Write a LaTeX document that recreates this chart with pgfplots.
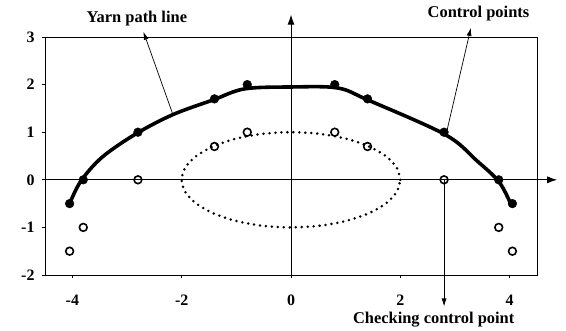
\documentclass[border=0pt]{standalone}
\usepackage{pgfplots}
\pgfplotsset{compat=1.18}
\usepackage{fontspec}
\setmainfont{Liberation Serif}
\usetikzlibrary{arrows.meta}

\begin{document}
\begin{tikzpicture}
\begin{axis}[
  scale only axis,
  width=492bp, height=238bp,
  xmin=-4.5, xmax=4.5, ymin=-2, ymax=3,
  xtick={-4,-2,0,2,4}, ytick={-2,-1,0,1,2,3},
  xtick pos=left, ytick pos=left,
  axis line style={line width=0.7pt},
  tick style={black, line width=0.7pt},
  tick align=outside, major tick length=3bp,
  ticklabel style={font=\bfseries\fontsize{16}{16}\selectfont},
  xticklabel style={yshift=-13bp},
  yticklabel style={xshift=-4bp},
  /pgf/number format/assume math mode=true,
  clip=false,
]
% centre axes with arrow heads
\draw[line width=1pt, -{Latex[length=10bp,width=7bp]}] (axis cs:-4.55,0) -- (axis cs:4.87,0);
\draw[line width=1pt, -{Latex[length=10bp,width=7bp]}] (axis cs:0,-2) -- (axis cs:0,3.47);

% dotted ellipse
\addplot[black, line width=2.8pt, line cap=round, dash pattern=on 0pt off 6pt, smooth] coordinates {
 (2,0) (1.932,0.259) (1.732,0.5) (1.414,0.707) (1,0.866) (0.518,0.966) (0,1)
 (-0.518,0.966) (-1,0.866) (-1.414,0.707) (-1.732,0.5) (-1.932,0.259) (-2,0)
 (-1.932,-0.259) (-1.732,-0.5) (-1.414,-0.707) (-1,-0.866) (-0.518,-0.966) (0,-1)
 (0.518,-0.966) (1,-0.866) (1.414,-0.707) (1.732,-0.5) (1.932,-0.259) (2,0)
};

% yarn path line
\addplot[black, line width=3.6pt, smooth, tension=0.55] coordinates {
 (-4.05,-0.5) (-3.84,-0.02) (-3.45,0.48) (-2.83,0.97) (-2.16,1.37)
 (-1.42,1.68) (-0.85,1.91) (0,1.95) (0.85,1.93) (1.4,1.68) (2.82,0.95)
 (3.4,0.4) (3.81,-0.05) (4.04,-0.56)
};

% control points
\addplot[only marks, mark=*, mark size=4.4pt, black] coordinates {
 (-4.05,-0.5) (-3.8,0) (-2.8,1.0) (-1.4,1.7) (-0.8,2.0)
 (0.8,2.0) (1.4,1.7) (2.8,1.0) (3.8,0) (4.05,-0.5)
};

% checking control points
\addplot[only marks, mark=o, mark size=3.9pt, line width=1.6pt, black, mark options={fill=white}] coordinates {
 (-4.05,-1.5) (-3.8,-1.0) (-2.8,0) (-1.4,0.7) (-0.8,1.0)
 (0.8,1.0) (1.4,0.7) (2.8,0) (3.8,-1.0) (4.05,-1.5)
};

% annotations
\draw[line width=0.7pt, -{Latex[length=8bp,width=5bp]}] (axis cs:-2.16,1.37) -- (axis cs:-2.70,3.11);
\node[font=\bfseries\fontsize{16.5}{16.5}\selectfont] at (axis cs:-2.82,3.38) {Yarn path line};
\draw[line width=0.7pt, -{Latex[length=8bp,width=5bp]}] (axis cs:2.84,0.97) -- (axis cs:3.29,3.19);
\node[font=\bfseries\fontsize{16.5}{16.5}\selectfont] at (axis cs:3.43,3.49) {Control points};
\draw[line width=0.7pt, -{Latex[length=8bp,width=5bp]}] (axis cs:2.8,0) -- (axis cs:2.8,-2.66);
\node[font=\bfseries\fontsize{16.5}{16.5}\selectfont] at (axis cs:2.61,-2.93) {Checking control point};
\end{axis}
\pgfresetboundingbox
\path ([xshift=-45bp,yshift=-55bp]current axis.south west) rectangle ([xshift=29bp,yshift=37bp]current axis.north east);
\end{tikzpicture}
\end{document}
